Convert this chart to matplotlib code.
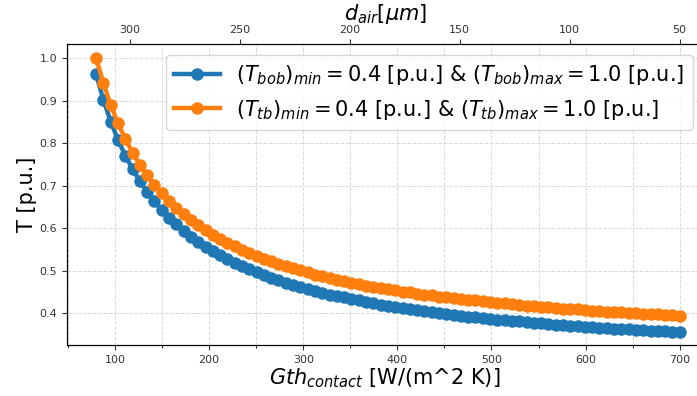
import matplotlib
matplotlib.use('Agg')
import matplotlib.pyplot as plt
from matplotlib.ticker import MultipleLocator, NullLocator

# thermal contact conductance [W/(m^2 K)]
gth = [80, 87.75, 95.5, 103.25, 111, 118.75, 126.5, 134.25, 142, 149.75,
       157.5, 165.25, 173, 180.75, 188.5, 196.25, 204, 211.75, 219.5, 227.25,
       235, 242.75, 250.5, 258.25, 266, 273.75, 281.5, 289.25, 297, 304.75,
       312.5, 320.25, 328, 335.75, 343.5, 351.25, 359, 366.75, 374.5, 382.25,
       390, 397.75, 405.5, 413.25, 421, 428.75, 436.5, 444.25, 452, 459.75,
       467.5, 475.25, 483, 490.75, 498.5, 506.25, 514, 521.75, 529.5, 537.25,
       545, 552.75, 560.5, 568.25, 576, 583.75, 591.5, 599.25, 607, 614.75,
       622.5, 630.25, 638, 645.75, 653.5, 661.25, 669, 676.75, 684.5, 692.25,
       700]

t_bob = [0.962, 0.902, 0.851, 0.808, 0.771, 0.739, 0.710, 0.685, 0.663, 0.643,
         0.625, 0.609, 0.594, 0.580, 0.568, 0.556, 0.546, 0.536, 0.527, 0.518,
         0.510, 0.503, 0.496, 0.489, 0.483, 0.477, 0.472, 0.467, 0.462, 0.457,
         0.452, 0.448, 0.444, 0.440, 0.437, 0.433, 0.430, 0.426, 0.423, 0.420,
         0.418, 0.415, 0.412, 0.410, 0.407, 0.405, 0.403, 0.400, 0.398, 0.396,
         0.394, 0.392, 0.391, 0.389, 0.387, 0.385, 0.384, 0.382, 0.381, 0.379,
         0.378, 0.376, 0.375, 0.373, 0.372, 0.371, 0.370, 0.368, 0.367, 0.366,
         0.365, 0.364, 0.363, 0.362, 0.361, 0.360, 0.359, 0.358, 0.357, 0.356,
         0.355]

t_tb = [1.000, 0.941, 0.890, 0.847, 0.810, 0.778, 0.749, 0.724, 0.702, 0.682,
        0.664, 0.648, 0.633, 0.619, 0.607, 0.595, 0.585, 0.575, 0.566, 0.557,
        0.549, 0.542, 0.535, 0.528, 0.522, 0.516, 0.511, 0.506, 0.501, 0.496,
        0.491, 0.487, 0.483, 0.479, 0.476, 0.472, 0.469, 0.465, 0.462, 0.459,
        0.457, 0.454, 0.451, 0.449, 0.446, 0.444, 0.442, 0.439, 0.437, 0.435,
        0.433, 0.431, 0.430, 0.428, 0.426, 0.424, 0.423, 0.421, 0.420, 0.418,
        0.417, 0.415, 0.414, 0.412, 0.411, 0.410, 0.409, 0.407, 0.406, 0.405,
        0.404, 0.403, 0.402, 0.401, 0.400, 0.399, 0.398, 0.397, 0.396, 0.395,
        0.394]

# air gap thickness ticks on the top axis [um]
d_air_ticks = [300, 250, 200, 150, 100, 50]

label_bob = r'$(T_{bob})_{min} = 0.4$ [p.u.] & $(T_{bob})_{max} = 1.0$ [p.u.]'
label_tb = r'$(T_{tb})_{min} = 0.4$ [p.u.] & $(T_{tb})_{max} = 1.0$ [p.u.]'

fig = plt.figure(figsize=(6.97, 3.96), dpi=100)
ax = fig.add_axes([0.096, 0.129, 0.913, 0.759])

ax.plot(gth, t_bob, '-o', color='#1f77b4', lw=3.2, ms=8, label=label_bob)
ax.plot(gth, t_tb, '-o', color='#ff7f0e', lw=3.2, ms=8, label=label_tb)

ax.set_xlim(49, 725)
ax.set_ylim(0.3254, 1.0325)
ax.xaxis.set_major_locator(MultipleLocator(100))
ax.xaxis.set_minor_locator(MultipleLocator(50))
ax.yaxis.set_major_locator(MultipleLocator(0.1))
ax.yaxis.set_minor_locator(NullLocator())
ax.grid(True, which='both', ls='--', color='#d8d8d8', lw=0.7)
ax.tick_params(labelsize=8, colors='#333333', labelcolor='#333333')

ax.set_xlabel(r'$Gth_{contact}$ [W/(m^2 K)]', fontsize=15, labelpad=1)
ax.set_ylabel('T [p.u.]', fontsize=15, labelpad=2)
ax.legend(loc='upper right', fontsize=15, handlelength=2.2)

ax2 = ax.twiny()
ax2.set_xlim(328.7, 39.2)
ax2.set_xticks(d_air_ticks)
ax2.tick_params(labelsize=8, colors='#333333')
ax2.set_xlabel(r'$d_{air}[\mu m]$', fontsize=15, labelpad=3)

fig.savefig('out.png', dpi=100)
